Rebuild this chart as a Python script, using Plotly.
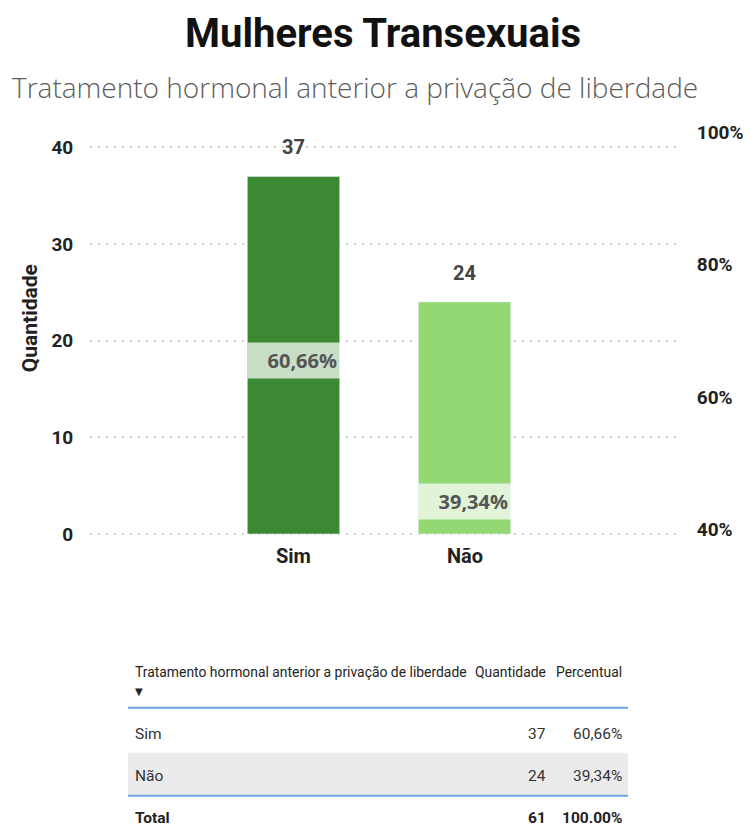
import plotly.graph_objects as go

# ---------------- data ----------------
categories = ["Sim", "Não"]
quantities = [37, 24]
percents = [60.66, 39.34]
bar_colors = ["#3b8a33", "#93d872"]

title_text = "Mulheres Transexuais"
subtitle_text = "Tratamento hormonal anterior a privação de liberdade"
y_title = "Quantidade"

left_ticks = [0, 10, 20, 30, 40]
right_ticks = [0.4, 0.6, 0.8, 1.0]
right_ticktext = ["40%", "60%", "80%", "100%"]

table_header = ["Tratamento hormonal anterior a privação de liberdade", "Quantidade", "Percentual"]
total_label = "Total"
total_qty = 61
total_pct = "100.00%"

# ---------------- helpers (layout placement only) ----------------
OFF_X = 8
W, H = 743, 830
VY_OFF, VY_SCALE = 13.45, 0.9855   # observed vertical placement of the page in the photo


def px(x):
    return (x - OFF_X) / W


def fy(y):
    return (y - VY_OFF) / VY_SCALE


def py(y):
    return 1 - fy(y) / H


def pct_label(v):
    return f"{v:.2f}".replace(".", ",") + "%"


# plot area (screen px) and axis scales
TOP, BOT = 126, 539
Y0_PIX, Y_PER_UNIT = 534, 9.675          # left axis: 0 at 534, 9.675 px per unit
R40_PIX, R_PER_UNIT = 529.5, 663.0       # right axis: 40% at 529.5, 663 px per 100%
left_range = [(Y0_PIX - BOT) / Y_PER_UNIT, (Y0_PIX - TOP) / Y_PER_UNIT]
right_range = [0.4 - (BOT - R40_PIX) / R_PER_UNIT, 0.4 + (R40_PIX - TOP) / R_PER_UNIT]

fig = go.Figure()

fig.add_trace(go.Bar(
    x=categories, y=quantities, marker_color=bar_colors, width=0.54,
    hoverinfo="skip", showlegend=False, yaxis="y",
))
fig.add_trace(go.Scatter(
    x=categories, y=[p / 100 for p in percents], yaxis="y2", mode="lines",
    line=dict(color="rgba(0,0,0,0)", width=0), hoverinfo="skip", showlegend=False,
))

annotations = []
# category labels under the bars
for c in categories:
    annotations.append(dict(
        x=c, y=0, xref="x", yref="y", yanchor="middle", yshift=-22 / VY_SCALE,
        text=f"<b>{c}</b>", showarrow=False,
        font=dict(family="Roboto", size=20, color="#222222"),
    ))
# value labels above bars
for c, q in zip(categories, quantities):
    annotations.append(dict(
        x=c, y=q, xref="x", yref="y", yanchor="middle", yshift=29 / VY_SCALE,
        text=f"<b>{q}</b>", showarrow=False,
        font=dict(family="Roboto", size=20, color="#444444"),
    ))
# percent labels with background
for c, p in zip(categories, percents):
    annotations.append(dict(
        x=c, y=p / 100, xref="x", yref="y2", yanchor="middle", yshift=32 / VY_SCALE,
        text=f"<b>{pct_label(p)}</b>", showarrow=False, align="right",
        width=86, height=29, borderpad=3, bgcolor="rgba(255,255,255,0.72)",
        font=dict(family="Open Sans", size=20, color="#555555"),
    ))

# title / subtitle / y title
annotations.append(dict(
    x=px(383), y=py(33), xref="paper", yref="paper", xanchor="center", yanchor="middle",
    text=f"<b>{title_text}</b>", showarrow=False,
    font=dict(family="Roboto", size=40, color="#111111"),
))
annotations.append(dict(
    x=px(355), y=py(87), xref="paper", yref="paper", xanchor="center", yanchor="middle",
    text=subtitle_text, showarrow=False,
    font=dict(family="Open Sans", size=28, color="#5c5c5c", weight=300),
))
annotations.append(dict(
    x=px(30), y=py(318), xref="paper", yref="paper", xanchor="center", yanchor="middle",
    text=f"<b>{y_title}</b>", textangle=-90, showarrow=False,
    font=dict(family="Roboto", size=21, color="#222222"),
))

# ---------------- table ----------------
tfont = "Roboto"
tcolor = "#333333"
col_x = [133, 548, 624]
hdr_y = 672


def tcell(x, y, text, anchor, size, color=tcolor):
    annotations.append(dict(x=px(x), y=py(y), xref="paper", yref="paper",
                            xanchor=anchor, yanchor="middle", text=text, showarrow=False,
                            font=dict(family=tfont, size=size, color=color)))


tcell(col_x[0], hdr_y, table_header[0], "left", 13.9, "#252423")
tcell(col_x[1], hdr_y, table_header[1], "right", 13.9, "#252423")
tcell(col_x[2], hdr_y, table_header[2], "right", 13.9, "#252423")
annotations.append(dict(x=px(133), y=py(692), xref="paper", yref="paper", xanchor="left",
                        yanchor="middle", text="▼", showarrow=False,
                        font=dict(family="DejaVu Sans", size=10, color="#222222")))

row_y = [734, 776]
for c, q, p, ry in zip(categories, quantities, percents, row_y):
    tcell(col_x[0], ry, c, "left", 15.5)
    tcell(col_x[1], ry, str(q), "right", 15.5)
    tcell(col_x[2], ry, pct_label(p), "right", 15.5)
ty = 818
tcell(col_x[0], ty, f"<b>{total_label}</b>", "left", 15.5, "#222222")
tcell(col_x[1], ty, f"<b>{total_qty}</b>", "right", 15.5, "#222222")
tcell(col_x[2], ty, f"<b>{total_pct}</b>", "right", 15.5, "#222222")

shapes = [
    dict(type="rect", xref="paper", yref="paper", x0=px(128), x1=px(628), y0=py(795), y1=py(753),
         fillcolor="#ebebeb", line=dict(width=0), layer="below"),
    dict(type="line", xref="paper", yref="paper", x0=px(128), x1=px(628), y0=py(708), y1=py(708),
         line=dict(color="#6aa3e0", width=2)),
    dict(type="line", xref="paper", yref="paper", x0=px(128), x1=px(628), y0=py(796), y1=py(796),
         line=dict(color="#6aa3e0", width=2)),
]

tickfont = dict(family="Roboto", size=19, color="#222222", weight="bold")

fig.update_layout(
    width=W, height=H, margin=dict(l=0, r=0, t=0, b=0),
    paper_bgcolor="white", plot_bgcolor="white",
    annotations=annotations, shapes=shapes,
    xaxis=dict(domain=[px(90), px(680)], type="category", range=[-1.19, 2.26],
               showgrid=False, zeroline=False, showline=False, showticklabels=False),
    yaxis=dict(domain=[py(BOT), py(TOP)], range=left_range, tickvals=left_ticks,
               showgrid=True, gridcolor="#d0d0d0", griddash="2px,6px", gridwidth=2,
               zeroline=False, showline=False,
               ticks="outside", ticklen=12, tickcolor="rgba(0,0,0,0)",
               tickfont=tickfont),
    yaxis2=dict(overlaying="y", side="right", range=right_range, tickvals=right_ticks,
                ticktext=right_ticktext, showgrid=False, zeroline=False, showline=False,
                ticks="outside", ticklen=12, tickcolor="rgba(0,0,0,0)",
                tickfont=tickfont),
)

fig.write_html("out.html")
